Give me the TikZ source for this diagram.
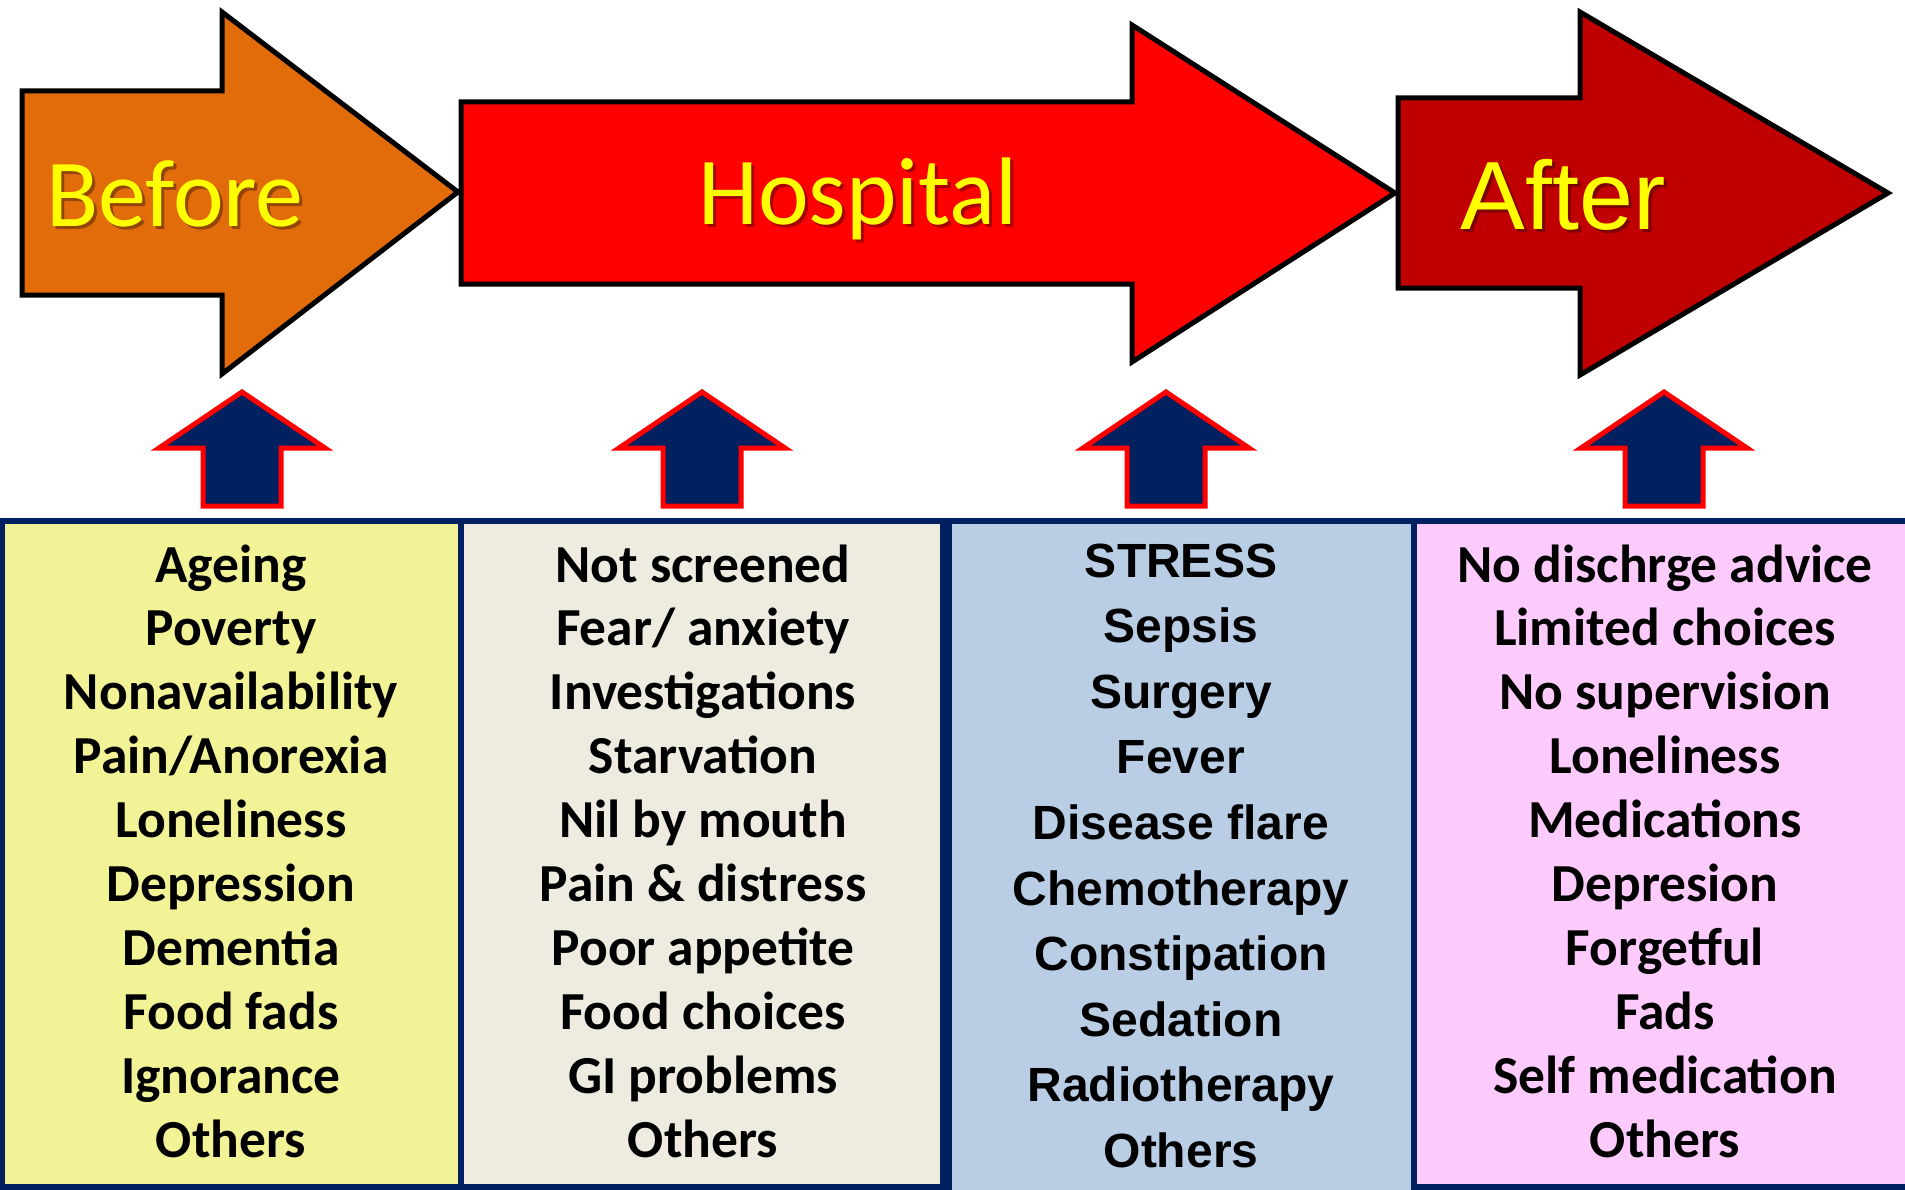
\documentclass[tikz,border=0pt]{standalone}
\usepackage{fontspec}
\setmainfont{Carlito}
\newfontfamily\arialf{Liberation Sans}
\definecolor{beforeC}{HTML}{E36C0A}
\definecolor{hospC}{HTML}{FF0000}
\definecolor{afterC}{HTML}{C00000}
\definecolor{titleY}{HTML}{FFFF00}
\definecolor{navyC}{HTML}{002060}
\definecolor{boxA}{HTML}{F2F296}
\definecolor{boxB}{HTML}{EEECE1}
\definecolor{boxC}{HTML}{B9CDE5}
\definecolor{boxD}{HTML}{FCCBFC}
\tikzset{
  bigarrow/.style={draw=black, line width=5pt, line join=miter, miter limit=10},
  uparrow/.style={draw=red, fill=navyC, line width=5pt, line join=miter, miter limit=10},
  panel/.style={draw=navyC, line width=6pt},
  titletext/.style={text=titleY, anchor=base, inner sep=0pt},
  titleshadow/.style={text=black, opacity=0.35, anchor=base, inner sep=0pt},
  itemtext/.style={anchor=base, inner sep=0pt, text=black, font=\fontsize{53.5}{60}\selectfont\bfseries},
  itemtextB/.style={anchor=base, inner sep=0pt, text=black, font=\arialf\fontsize{48}{56}\selectfont\bfseries},
}
\begin{document}
\begin{tikzpicture}[x=1pt,y=-1pt]
\useasboundingbox (0,0) rectangle (1905,1190);
\clip (0,0) rectangle (1905,1190);
\fill[white] (0,0) rectangle (1905,1190);

% big arrows
\draw[bigarrow, fill=beforeC] (22,91) -- (222,91) -- (222,12) -- (458,192) -- (222,374) -- (222,295) -- (22,295) -- cycle;
\draw[bigarrow, fill=hospC] (461,102) -- (1132,102) -- (1132,25) -- (1395,193) -- (1132,362) -- (1132,284) -- (461,284) -- cycle;
\draw[bigarrow, fill=afterC] (1398,98) -- (1580,98) -- (1580,12) -- (1888,193) -- (1580,375) -- (1580,288) -- (1398,288) -- cycle;

% titles
\node[titleshadow, font=\fontsize{96}{110}\selectfont] (beforeS) at (178,230) {Before};
\node[titletext, font=\fontsize{96}{110}\selectfont] (before) at (175,227) {Before};
\node[titleshadow, font=\fontsize{96}{110}\selectfont] (hospS) at (861,228) {Hospital};
\node[titletext, font=\fontsize{96}{110}\selectfont] (hosp) at (858,225) {Hospital};
\node[titleshadow, font=\arialf\fontsize{97}{110}\selectfont] (afterS) at (1566,233) {After};
\node[titletext, font=\arialf\fontsize{97}{110}\selectfont] (after) at (1563,230) {After};

% up arrows
\foreach \cx/\nm in {242/upA, 702/upB, 1166/upC, 1664/upD}{
  \draw[uparrow] (\cx,392) -- (\cx+83,448) -- (\cx+39,448) -- (\cx+39,506) -- (\cx-39,506) -- (\cx-39,448) -- (\cx-83,448) -- cycle;
}

% panels
\draw[panel, fill=boxA] (2,521) rectangle (461,1187);
\draw[panel, fill=boxB] (461,521) rectangle (943,1187);
\draw[panel, fill=boxD] (1414,521) rectangle (1925,1187);
\draw[panel, fill=boxC] (949,521) rectangle (1414,1205);

% panel texts
\foreach \t [count=\i] in {Ageing, Poverty, Nonavailability, Pain/Anorexia, Loneliness, Depression, Dementia, Food fads, Ignorance, Others}{
  \node[itemtext] (a\i) at (231,{582+63.9*(\i-1)}) {\t};
}
\foreach \t [count=\i] in {Not screened, Fear/ anxiety, Investigations, Starvation, Nil by mouth, Pain \& distress, Poor appetite, Food choices, GI problems, Others}{
  \node[itemtext] (b\i) at (703,{582+63.9*(\i-1)}) {\t};
}
\foreach \t [count=\i] in {STRESS, Sepsis, Surgery, Fever, Disease flare, Chemotherapy, Constipation, Sedation, Radiotherapy, Others}{
  \node[itemtextB] (c\i) at (1181,{577+65.6*(\i-1)}) {\t};
}
\foreach \t [count=\i] in {No dischrge advice, Limited choices, No supervision, Loneliness, Medications, Depresion, Forgetful, Fads, Self medication, Others}{
  \node[itemtext] (d\i) at (1665,{582+63.9*(\i-1)}) {\t};
}
\end{tikzpicture}
\end{document}
